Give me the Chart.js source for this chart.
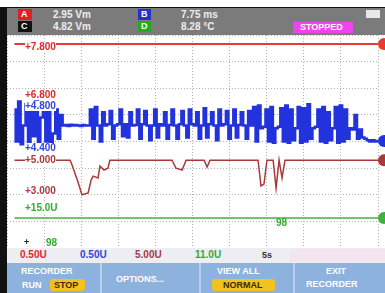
<!DOCTYPE html>
<html>
<head>
<meta charset="utf-8">
<script src="https://cdn.jsdelivr.net/npm/chart.js@4.4.1/dist/chart.umd.min.js"></script>
<style>
  body { margin: 0; width: 385px; height: 293px; overflow: hidden; background: #fff; position: relative;
         font-family: "Liberation Sans", Arial, sans-serif; font-weight: bold; }
  .t { position: absolute; white-space: nowrap; line-height: 1; }
  .box { position: absolute; }
  #plot { position: absolute; left: 7px; top: 35px; }
</style>
</head>
<body>
<!-- frame -->
<div class="box" style="left:0;top:7px;width:385px;height:1px;background:#111"></div>
<div class="box" style="left:0;top:7px;width:7px;height:286px;background:#111"></div>

<!-- header -->
<div class="box" style="left:7px;top:8px;width:378px;height:27px;background:#7b7b7b"></div>
<div class="box" style="left:18px;top:9px;width:14px;height:11px;background:#e02020"></div>
<div class="t" style="left:21px;top:10px;font-size:9px;color:#fff">A</div>
<div class="box" style="left:18px;top:21px;width:14px;height:11px;background:#111"></div>
<div class="t" style="left:21px;top:22px;font-size:9px;color:#fff">C</div>
<div class="t" style="left:53px;top:10px;font-size:10px;color:#eee">2.95 Vm</div>
<div class="t" style="left:53px;top:22px;font-size:10px;color:#eee">4.82 Vm</div>
<div class="box" style="left:138px;top:9px;width:13px;height:11px;background:#2233cc"></div>
<div class="t" style="left:141px;top:10px;font-size:9px;color:#fff">B</div>
<div class="box" style="left:138px;top:21px;width:13px;height:11px;background:#22aa22"></div>
<div class="t" style="left:141px;top:22px;font-size:9px;color:#fff">D</div>
<div class="t" style="left:181px;top:10px;font-size:10px;color:#eee">7.75 ms</div>
<div class="t" style="left:181px;top:22px;font-size:10px;color:#eee">8.28 °C</div>
<div class="box" style="left:293px;top:22px;width:60px;height:11px;background:#ee44ee"></div>
<div class="t" style="left:300px;top:23px;font-size:9px;color:#fff">STOPPED</div>
<div class="box" style="left:366px;top:10px;width:14px;height:8px;background:#e8e8ec"></div>

<!-- chart -->
<canvas id="plot" width="378" height="213"></canvas>

<!-- trace labels -->
<div class="t" style="left:25px;top:42px;font-size:10px;color:#e02828;background:#fff">+7.800</div>
<div class="t" style="left:25px;top:90px;font-size:10px;color:#e02828;background:#fff">+6.800</div>
<div class="t" style="left:25px;top:101px;font-size:10px;color:#3344dd;background:#fff">+4.800</div>
<div class="t" style="left:25px;top:143px;font-size:10px;color:#3344dd;background:#fff">+4.400</div>
<div class="t" style="left:25px;top:155px;font-size:10px;color:#a83a3a;background:#fff">+5.000</div>
<div class="t" style="left:25px;top:186px;font-size:10px;color:#a83a3a;background:#fff">+3.000</div>
<div class="t" style="left:25px;top:203px;font-size:10px;color:#33aa33;background:#fff">+15.0U</div>
<div class="t" style="left:24px;top:238px;font-size:9px;color:#222">+</div>
<div class="t" style="left:46px;top:238px;font-size:10px;color:#33aa33">98</div>
<div class="t" style="left:276px;top:218px;font-size:10px;color:#33aa33">98</div>

<!-- info row -->
<div class="box" style="left:7px;top:248px;width:378px;height:15px;background:#eceef4"></div>
<div class="box" style="left:290px;top:249px;width:95px;height:13px;background:#f3e4ef"></div>
<div class="t" style="left:20px;top:250px;font-size:10px;color:#e02828">0.50U</div>
<div class="t" style="left:80px;top:250px;font-size:10px;color:#3344dd">0.50U</div>
<div class="t" style="left:135px;top:250px;font-size:10px;color:#a83a3a">5.00U</div>
<div class="t" style="left:195px;top:250px;font-size:10px;color:#33aa33">11.0U</div>
<div class="t" style="left:262px;top:251px;font-size:9px;color:#333">5s</div>

<!-- soft keys -->
<div class="box" style="left:7px;top:263px;width:378px;height:30px;background:#8db2de"></div>
<div class="box" style="left:100px;top:263px;width:2px;height:30px;background:#b8d0ee"></div>
<div class="box" style="left:199px;top:263px;width:2px;height:30px;background:#b8d0ee"></div>
<div class="box" style="left:293px;top:263px;width:2px;height:30px;background:#b8d0ee"></div>
<div class="t" style="left:21px;top:267px;font-size:9px;color:#fff">RECORDER</div>
<div class="t" style="left:22px;top:281px;font-size:9px;color:#fff">RUN</div>
<div class="box" style="left:50px;top:279px;width:35px;height:12px;background:#f2c21e;border-radius:3px"></div>
<div class="t" style="left:54px;top:281px;font-size:9px;color:#3a2a00">STOP</div>
<div class="t" style="left:116px;top:275px;font-size:9px;color:#fff">OPTIONS...</div>
<div class="t" style="left:217px;top:267px;font-size:9px;color:#fff">VIEW ALL</div>
<div class="box" style="left:212px;top:279px;width:63px;height:12px;background:#f2c21e;border-radius:3px"></div>
<div class="t" style="left:223px;top:281px;font-size:9px;color:#3a2a00">NORMAL</div>
<div class="t" style="left:326px;top:267px;font-size:9px;color:#fff">EXIT</div>
<div class="t" style="left:306px;top:280px;font-size:9px;color:#fff">RECORDER</div>

<script>
// sample index 0..150 across the screen, value in vertical divisions 0..8
const redTimes = [3, 150];
const redValues = [7.66, 7.66];

const blueStart = 3;
const blueValues = [
  5.2, 4.0, 5.5, 3.9, 4.6, 5.4, 3.85, 5.1, 4.2, 5.5, 3.9, 4.9, 5.3, 4.0, 5.45, 3.9, 4.3, 5.2, 4.1, 5.0,
  4.6, 4.62, 4.58, 4.63, 4.6, 4.62, 4.6, 4.58, 4.62, 4.6, 4.6,
  5.2, 4.1, 5.3, 4.6, 4.0, 5.1, 4.6,
  4.65, 5.15, 4.1, 4.6, 4.65, 5.2, 4.2, 4.65, 4.15, 5.1, 4.6, 4.62, 5.2, 4.1, 4.65, 5.15, 4.6, 4.05, 4.6, 5.2,
  4.15, 4.65, 4.6, 5.1, 4.1, 4.62, 5.2, 4.6, 4.1, 4.65, 5.15, 4.6, 4.15, 5.2, 4.65, 4.6, 5.1, 4.1, 4.6, 5.25,
  4.15, 4.65, 5.1, 4.6, 4.05, 5.2, 4.6, 4.65, 5.15, 4.1, 4.6, 5.2, 4.15, 4.62, 5.1, 4.6, 4.1, 5.15, 4.6,
  5.3, 4.0, 5.35, 4.5, 4.55, 5.2, 4.0, 5.3, 3.95, 4.5, 4.55, 5.25, 4.0, 5.35, 3.95, 5.2, 4.05, 4.5, 5.3, 3.95,
  5.25, 4.0, 5.4, 4.1, 4.5, 4.55, 5.2, 4.0, 5.3, 3.95, 5.1, 4.05, 4.5, 5.3, 3.95, 5.35, 4.0, 5.2, 4.1, 4.5,
  4.45, 5.0, 4.1, 4.45, 4.15, 4.1,
  4.05, 4.0, 4.05, 4.0, 4.02
];

const brownTimes = [3, 25.5, 26.3, 28.7, 30.3, 32.8, 34, 34.8, 36.8, 37.6, 39.2, 40.8, 41.6, 66.7, 68.3, 70.8, 72.4,
  79.7, 80.9, 82.1, 101.5, 102.7, 103.9, 105.1, 107.6, 108.8, 110, 111.2, 112.4, 150];
const brownValues = [3.3, 3.3, 3.12, 2.48, 2.0, 2.07, 2.55, 2.7, 2.63, 3.08, 2.93, 3.0, 3.3, 3.3, 3.0, 2.93, 3.3,
  3.3, 3.04, 3.3, 3.3, 2.33, 2.4, 3.3, 3.3, 2.25, 3.3, 2.63, 3.3, 3.3];

const greenTimes = [3, 150];
const greenValues = [1.13, 1.13];

const pairs = (xs, ys) => ys.map((y, i) => ({ x: xs[i], y: y }));
const bluePoints = blueValues.map((y, i) => ({ x: blueStart + i, y: y }));

const markers = {
  id: 'markers',
  afterDatasetsDraw(chart) {
    const c = chart.ctx;
    const area = chart.chartArea;
    chart.data.datasets.forEach((ds) => {
      const last = ds.data[ds.data.length - 1];
      const y = chart.scales.y.getPixelForValue(last.y);
      c.save();
      c.fillStyle = ds.borderColor;
      c.beginPath();
      c.arc(area.right + 6, y, 6, 0, Math.PI * 2);
      c.fill();
      c.restore();
    });
  }
};

const ctx = document.getElementById('plot').getContext('2d');
const chart = new Chart(ctx, {
  type: 'line',
  data: {
    datasets: [
      { label: 'A', data: pairs(redTimes, redValues), borderColor: '#e83a2e', borderWidth: 2 },
      { label: 'B', data: bluePoints, borderColor: '#2233dd', borderWidth: 2.5, stepped: 'middle' },
      { label: 'C', data: pairs(brownTimes, brownValues), borderColor: '#a83a3a', borderWidth: 1.5 },
      { label: 'D', data: pairs(greenTimes, greenValues), borderColor: '#3cb43c', borderWidth: 1.5 }
    ]
  },
  options: {
    responsive: false,
    devicePixelRatio: 1,
    animation: false,
    layout: { padding: { left: 0, right: 7, top: 0, bottom: 0 } },
    elements: { point: { radius: 0 }, line: { tension: 0 } },
    plugins: { legend: { display: false }, tooltip: { enabled: false } },
    scales: {
      x: {
        type: 'linear', min: 0, max: 150,
        ticks: { display: false, stepSize: 15 },
        grid: { color: '#b0b0b0', drawTicks: false },
        border: { display: false, dash: [1, 2] }
      },
      y: {
        min: 0, max: 8,
        ticks: { display: false, stepSize: 1 },
        grid: { color: '#b0b0b0', drawTicks: false },
        border: { display: false, dash: [1, 2] }
      }
    }
  },
  plugins: [markers]
});
</script>
</body>
</html>
